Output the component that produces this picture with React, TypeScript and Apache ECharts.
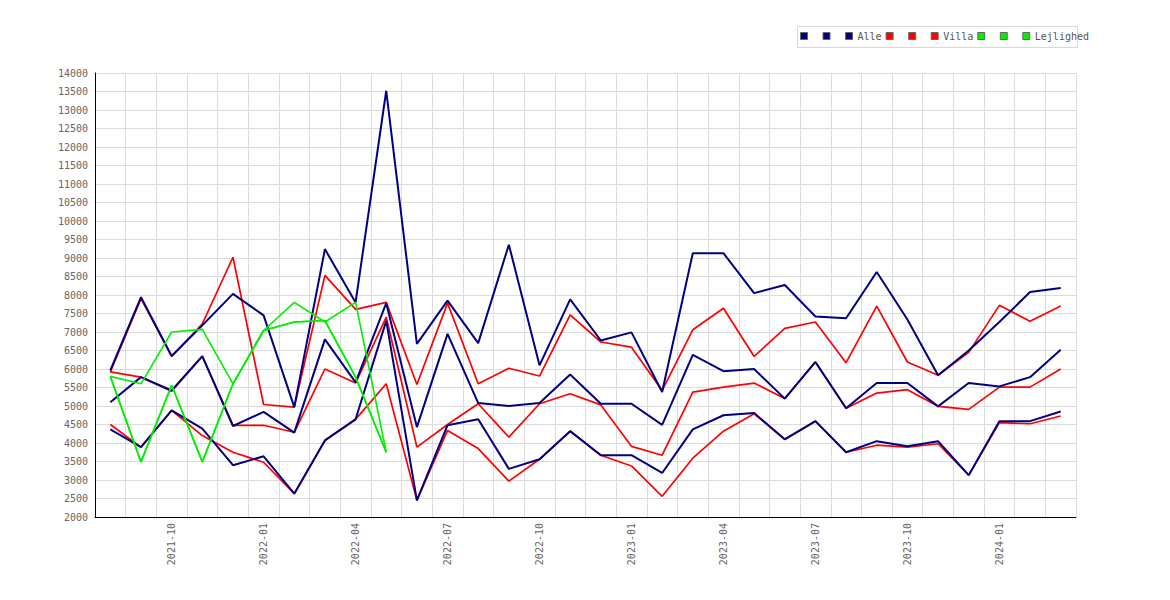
import React, { useEffect, useRef } from "react";
import * as echarts from "echarts";

const categories = [
  "2021-08", "2021-09", "2021-10", "2021-11", "2021-12", "2022-01", "2022-02", "2022-03",
  "2022-04", "2022-05", "2022-06", "2022-07", "2022-08", "2022-09", "2022-10", "2022-11",
  "2022-12", "2023-01", "2023-02", "2023-03", "2023-04", "2023-05", "2023-06", "2023-07",
  "2023-08", "2023-09", "2023-10", "2023-11", "2023-12", "2024-01", "2024-02", "2024-03",
];

const alleHigh = [5960, 7940, 6350, 7180, 8030, 7450, 4970, 9240, 7800, 13520, 6680, 7850, 6700, 9360, 6100, 7880,
  6770, 6990, 5380, 9130, 9130, 8050, 8270, 7420, 7370, 8620, 7340, 5830, 6500, 7270, 8080, 8190];
const alleMid = [5100, 5780, 5420, 6350, 4460, 4840, 4280, 6800, 5640, 7780, 4430, 6950, 5080, 5000, 5080, 5850,
  5060, 5060, 4490, 6380, 5940, 6000, 5200, 6190, 4940, 5620, 5620, 4990, 5620, 5530, 5780, 6520];
const alleLow = [4370, 3890, 4880, 4390, 3400, 3640, 2630, 4070, 4640, 7300, 2450, 4480, 4640, 3300, 3560, 4320,
  3670, 3670, 3190, 4370, 4750, 4810, 4100, 4590, 3750, 4050, 3910, 4050, 3130, 4590, 4590, 4850];

const villaHigh = [5920, 7900, 6340, 7220, 9020, 5040, 4970, 8530, 7610, 7800, 5580, 7780, 5600, 6020, 5810, 7460,
  6730, 6590, 5420, 7060, 7640, 6340, 7100, 7270, 6170, 7700, 6190, 5830, 6450, 7720, 7290, 7700];
const villaMid = [5920, 5780, 5400, 6340, 4475, 4480, 4290, 6000, 5620, 7400, 3890, 4500, 5060, 4160, 5060, 5330,
  5030, 3910, 3670, 5375, 5510, 5620, 5200, 6190, 4940, 5350, 5440, 4990, 4910, 5510, 5510, 6000];
const villaLow = [4500, 3890, 4880, 4200, 3750, 3480, 2630, 4070, 4640, 5600, 2450, 4340, 3850, 2970, 3560, 4320,
  3670, 3380, 2560, 3590, 4320, 4790, 4100, 4590, 3750, 3940, 3890, 3980, 3130, 4550, 4520, 4730];

const N = null;
const lejHigh = [5800, 5600, 7000, 7070, 5600, 7040, 7800, 7270, 7800, 3750, N, N, N, N, N, N,
  N, N, N, N, N, N, N, N, N, N, N, N, N, N, N, N];
const lejMid = [5800, 3490, 5560, 3490, 5600, 7040, 7270, 7310, 5780, 3750, N, N, N, N, N, N,
  N, N, N, N, N, N, N, N, N, N, N, N, N, N, N, N];
const lejLow = [5800, 3490, 5560, 3490, 5600, 7040, 7270, 7310, 5780, 3750, N, N, N, N, N, N,
  N, N, N, N, N, N, N, N, N, N, N, N, N, N, N, N];

const legendOrder = [
  "Alle øvre", "Alle nedre", "Alle",
  "Villa øvre", "Villa nedre", "Villa",
  "Lejlighed øvre", "Lejlighed nedre", "Lejlighed",
];
const legendLabels: Record<string, string> = {
  "Alle": "Alle",
  "Villa": "Villa",
  "Lejlighed": "Lejlighed",
};

const NAVY = "#000080";
const RED = "#ff0000";
const GREEN = "#00f000";
const MONO = "'DejaVu Sans Mono', 'Liberation Mono', monospace";

function line(name: string, data: (number | null)[], color: string, width: number) {
  return {
    name,
    type: "line",
    data,
    showSymbol: false,
    symbol: "none",
    connectNulls: false,
    color,
    lineStyle: { color, width },
    emphasis: { disabled: true },
  };
}

export default function App() {
  const ref = useRef<HTMLDivElement>(null);
  useEffect(() => {
    if (!ref.current) return;
    const chart = echarts.init(ref.current, null, { renderer: "svg" });
    chart.setOption({
      animation: false,
      backgroundColor: "#ffffff",
      grid: { left: 95, right: 94, top: 73, bottom: 83 },
      graphic: [
        {
          type: "rect",
          shape: { x: 797.5, y: 26.5, width: 280, height: 21 },
          style: { fill: "none", stroke: "#d8d8d8", lineWidth: 1 },
          z: -1,
        },
      ],
      legend: {
        data: legendOrder,
        left: 800,
        top: 30,
        padding: 0,
        itemWidth: 7,
        itemHeight: 7,
        itemGap: 4,
        icon: "rect",
        itemStyle: { borderColor: "#666", borderWidth: 1 },
        textStyle: { fontFamily: MONO, fontSize: 10, color: "#555", lineHeight: 12 },
        formatter: (name: string) => legendLabels[name] ?? " ",
        selectedMode: false,
      },
      xAxis: {
        type: "category",
        data: categories,
        boundaryGap: true,
        axisLine: { show: true, lineStyle: { color: "#000", width: 1 } },
        axisTick: { show: false },
        axisLabel: {
          rotate: 90,
          interval: (i: number) => i % 3 === 2,
          margin: 6,
          fontFamily: MONO,
          fontSize: 10,
          color: "#666",
        },
        splitLine: { show: true, interval: 0, lineStyle: { color: "#dcdcdc", width: 1 } },
      },
      yAxis: {
        type: "value",
        min: 2000,
        max: 14000,
        interval: 500,
        axisLine: { show: true, lineStyle: { color: "#000", width: 1 } },
        axisTick: { show: false },
        axisLabel: {
          margin: 7,
          fontFamily: MONO,
          fontSize: 10,
          color: "#666",
          formatter: (v: number) => String(v),
        },
        splitLine: { show: true, lineStyle: { color: "#dcdcdc", width: 1 } },
      },
      series: [
        line("Villa øvre", villaHigh, RED, 1.7),
        line("Villa nedre", villaLow, RED, 1.7),
        line("Villa", villaMid, RED, 1.7),
        line("Alle øvre", alleHigh, NAVY, 2),
        line("Alle nedre", alleLow, NAVY, 2),
        line("Alle", alleMid, NAVY, 2),
        line("Lejlighed øvre", lejHigh, GREEN, 1.6),
        line("Lejlighed nedre", lejLow, GREEN, 1.6),
        line("Lejlighed", lejMid, GREEN, 1.6),
      ],
    });
    return () => chart.dispose();
  }, []);
  return (
    <div
      ref={ref}
      style={{ position: "fixed", left: 0, top: 0, width: 1170, height: 600, background: "#fff" }}
    />
  );
}
